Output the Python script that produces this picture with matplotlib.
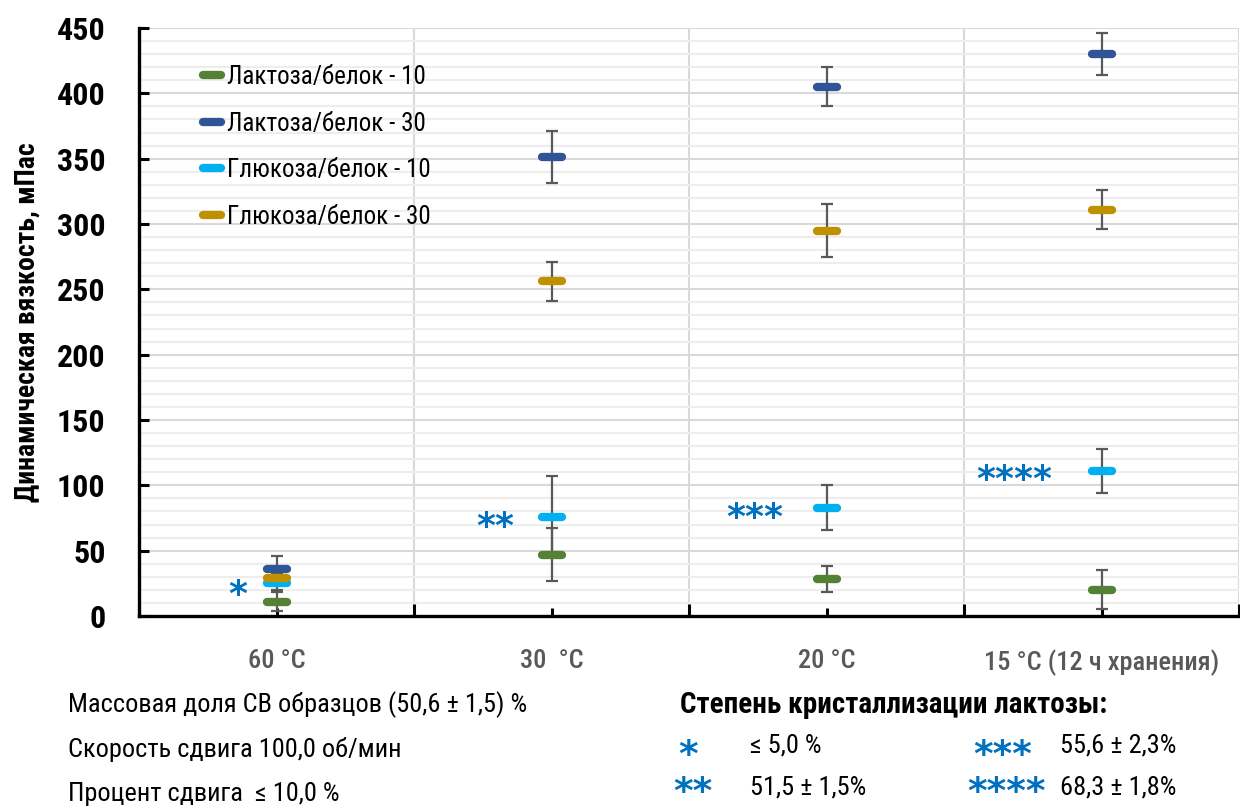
import matplotlib
matplotlib.use("Agg")
import matplotlib.pyplot as plt
from matplotlib.markers import MarkerStyle
from matplotlib.ticker import MultipleLocator, FixedLocator
import numpy as np

plt.rcParams['font.family'] = ['Roboto Condensed', 'Sofia Sans Semi Condensed', 'DejaVu Sans']

# data
categories = ['60 °C', '30  °C', '20 °C', '15 °C (12 ч хранения)']
series_names = ['Лактоза/белок - 10', 'Лактоза/белок - 30',
                'Глюкоза/белок - 10', 'Глюкоза/белок - 30']
lact10 = [11, 47, 28, 20]
lact10_err = [7, 20, 10, 15]
lact30 = [36, 351, 405, 430]
lact30_err = [10, 20, 15, 16]
gluc10 = [25, 76, 83, 111]
gluc10_err = [5, 31, 17, 17]
gluc30 = [29, 256, 295, 311]
gluc30_err = [4, 15, 20, 15]
colors = ['#548235', '#2F5597', '#00B0F0', '#BF9000']

stars = ['*', '**', '***', '****']
star_y = [22, 74, 81, 110]
star_dx = [-0.142, -0.204, -0.26, -0.316]

fig = plt.figure(figsize=(12.4, 8.07), dpi=100)
ax = fig.add_axes([139 / 1240, 1 - 616 / 807, 1100 / 1240, (616 - 28) / 807])

x = np.arange(len(categories))
values = [lact10, lact30, gluc10, gluc30]
errors = [lact10_err, lact30_err, gluc10_err, gluc30_err]

dash = MarkerStyle('_', capstyle='round')
for vals, errs, col, name in zip(values, errors, colors, series_names):
    ax.errorbar(x, vals, yerr=errs, fmt='none', ecolor='#595959',
                elinewidth=1.6, capsize=4.5, capthick=1.6, zorder=3)
    ax.plot(x, vals, linestyle='none', marker=dash, markersize=14,
            markeredgewidth=6, color=col, label=name, zorder=4)

# asterisks next to the glucose points (glyph sits high, so shift down a bit)
for i, (dx, sy, s) in enumerate(zip(star_dx, star_y, stars)):
    ax.text(x[i] + dx, sy - 6, s, color='#0070C0', fontsize=26,
            fontweight='bold', ha='center', va='center', family='DejaVu Sans')

ax.set_xlim(-0.5, 3.5)
ax.set_ylim(0, 450)
ax.xaxis.set_major_locator(FixedLocator([-0.5, 0.5, 1.5, 2.5, 3.5]))
ax.xaxis.set_minor_locator(FixedLocator(x))
ax.set_xticklabels([])
ax.set_xticklabels(categories, minor=True)
ax.yaxis.set_major_locator(MultipleLocator(50))
ax.yaxis.set_minor_locator(MultipleLocator(10))

ax.grid(axis='y', which='major', color='#d9d9d9', linewidth=1.5, zorder=0)
ax.grid(axis='y', which='minor', color='#ededed', linewidth=1.5, zorder=0)
ax.grid(axis='x', which='major', color='#d9d9d9', linewidth=1.5, zorder=0)
ax.set_axisbelow(True)

for side in ['top', 'right']:
    ax.spines[side].set_visible(False)
for side in ['left', 'bottom']:
    ax.spines[side].set_linewidth(2.4)

ax.tick_params(axis='y', which='major', direction='in', length=7, width=2.2,
               labelsize=23, pad=24)
ax.tick_params(axis='y', which='minor', length=0)
ax.tick_params(axis='x', which='major', direction='in', length=9, width=2.2)
ax.tick_params(axis='x', which='minor', direction='in', length=6, width=2.2,
               labelsize=19, labelcolor='#595959', pad=24)
for lab in ax.get_yticklabels():
    lab.set_fontweight('bold')
for lab in ax.get_xticklabels(minor=True):
    lab.set_fontweight('medium')

ax.set_ylabel('Динамическая вязкость, мПас', fontsize=20, fontweight='bold',
              labelpad=12)

ax.legend(loc='upper left', bbox_to_anchor=(0.036, 0.975), frameon=False,
          fontsize=18, handlelength=0.85, handletextpad=0.2, labelspacing=0.9,
          numpoints=1, markerscale=0.9)

def px(xp, yp):
    return xp / 1240, 1 - yp / 807

fs = 19
fig.text(*px(68, 705), 'Массовая доля СВ образцов (50,6 ± 1,5) %', fontsize=fs, va='center')
fig.text(*px(68, 750), 'Скорость сдвига 100,0 об/мин', fontsize=fs, va='center')
fig.text(*px(68, 794), 'Процент сдвига  ≤ 10,0 %', fontsize=fs, va='center')
fig.text(*px(680, 705), 'Степень кристаллизации лактозы:', fontsize=21,
         fontweight='bold', va='center')
fig.text(*px(750, 746), '≤ 5,0 %', fontsize=fs, va='center')
fig.text(*px(750, 787), '51,5 ± 1,5%', fontsize=fs, va='center')
fig.text(*px(1060, 746), '55,6 ± 2,3%', fontsize=fs, va='center')
fig.text(*px(1060, 787), '68,3 ± 1,8%', fontsize=fs, va='center')
for (xp, yp), s in zip([(688, 756), (693, 793), (1003, 756), (1006, 793)], stars):
    fig.text(*px(xp, yp), s, fontsize=27, fontweight='bold', color='#0070C0',
             ha='center', va='center', family='DejaVu Sans')

fig.savefig('out.png', dpi=100)
